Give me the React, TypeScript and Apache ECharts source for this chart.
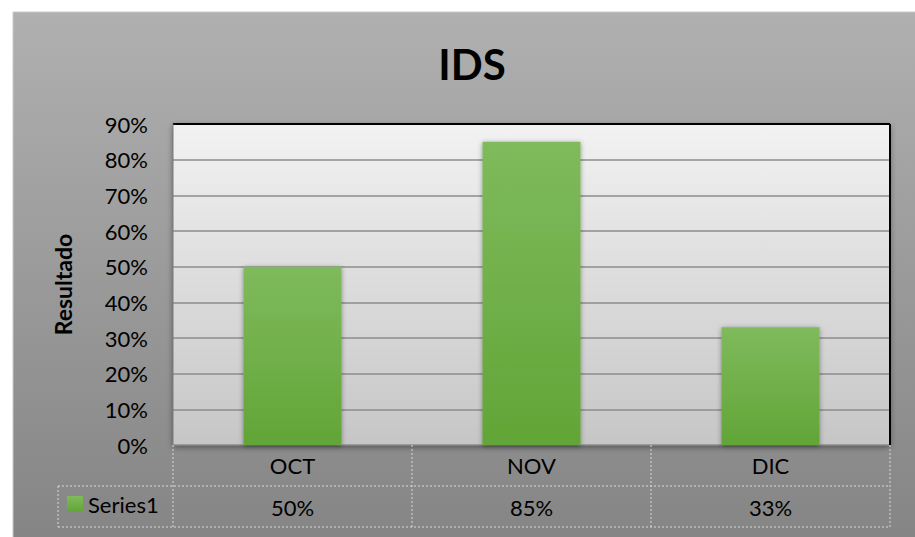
import React, { useEffect, useRef } from "react";
import * as echarts from "echarts";

const categories = ["OCT", "NOV", "DIC"];
const seriesName = "Series1";
const values = [50, 85, 33];
const yMin = 0;
const yMax = 90;
const yStep = 10;

const W = 915;
const H = 537;
const G = { left: 173, right: 25, top: 124, bottom: 92 };
const FONT = "Lato, 'Open Sans', sans-serif";

export default function App() {
  const ref = useRef<HTMLDivElement>(null);
  useEffect(() => {
    if (!ref.current) return;
    const chart = echarts.init(ref.current, undefined, { renderer: "svg" });
    const pl = G.left;
    const pr = W - G.right;
    const pt = G.top;
    const pb = H - G.bottom;
    const rowH = 41;
    const bandW = (pr - pl) / categories.length;
    const dash = { stroke: "#d9d9d9", lineWidth: 1, lineDash: [2, 2] };
    const graphics: any[] = [
      {
        type: "rect",
        z: -100,
        shape: { x: 13, y: 12, width: W, height: H },
        style: {
          fill: new echarts.graphic.LinearGradient(0, 0, 0, 1, [
            { offset: 0, color: "#b0b0b0" },
            { offset: 1, color: "#848484" },
          ]),
          stroke: "#c8c8c8",
          lineWidth: 1,
        },
      },
      { type: "line", z: 10, shape: { x1: pl, y1: pt, x2: pr, y2: pt }, style: { stroke: "#000", lineWidth: 2 } },
      { type: "line", z: 10, shape: { x1: pr, y1: pt, x2: pr, y2: pb }, style: { stroke: "#000", lineWidth: 2 } },
      { type: "line", z: 10, shape: { x1: pl, y1: pt, x2: pl, y2: pb }, style: { stroke: "#7a7a7a", lineWidth: 1 } },
      { type: "line", z: 10, shape: { x1: 58, y1: pb + rowH, x2: pr, y2: pb + rowH }, style: dash },
      { type: "line", z: 10, shape: { x1: 58, y1: pb + 2 * rowH, x2: pr, y2: pb + 2 * rowH }, style: dash },
      { type: "line", z: 10, shape: { x1: 58, y1: pb + rowH, x2: 58, y2: pb + 2 * rowH }, style: dash },
    ];
    for (let i = 0; i <= categories.length; i++) {
      const x = pl + i * bandW;
      graphics.push({ type: "line", z: 10, shape: { x1: x, y1: pb, x2: x, y2: pb + 2 * rowH }, style: dash });
    }
    chart.setOption({
      animation: false,
      backgroundColor: "#ffffff",
      title: {
        text: "IDS",
        left: 467,
        top: 38,
        textAlign: "center",
        textStyle: { fontFamily: FONT, fontWeight: "bold", fontSize: 42, color: "#000" },
      },
      legend: {
        show: true,
        left: 67,
        top: 493,
        itemWidth: 16,
        itemHeight: 16,
        itemGap: 5,
        padding: 0,
        icon: "rect",
        data: [seriesName],
        textStyle: { fontFamily: FONT, fontSize: 22, color: "#000", padding: [0, 0, 0, 0] },
      },
      grid: {
        left: G.left,
        right: G.right,
        top: G.top,
        bottom: G.bottom,
        show: true,
        borderWidth: 0,
        backgroundColor: new echarts.graphic.LinearGradient(0, 0, 0, 1, [
          { offset: 0, color: "#f2f2f2" },
          { offset: 1, color: "#c6c6c6" },
        ]),
        shadowColor: "rgba(0,0,0,0.45)",
        shadowBlur: 6,
        shadowOffsetY: 2,
      },
      xAxis: [
        {
          type: "category",
          data: categories,
          position: "bottom",
          axisLine: { show: false },
          axisTick: { show: false },
          axisLabel: { margin: 9, fontFamily: FONT, fontSize: 22, color: "#000" },
        },
        {
          type: "category",
          data: values.map((v) => v + "%"),
          position: "bottom",
          offset: 41,
          axisLine: { show: false },
          axisTick: { show: false },
          axisLabel: { margin: 10, fontFamily: FONT, fontSize: 22, color: "#000" },
        },
      ],
      yAxis: {
        type: "value",
        min: yMin,
        max: yMax,
        interval: yStep,
        name: "Resultado",
        nameLocation: "middle",
        nameGap: 99,
        nameTextStyle: { fontFamily: FONT, fontWeight: "bold", fontSize: 23, color: "#000" },
        axisLine: { show: false },
        axisTick: { show: false },
        axisLabel: { margin: 25, fontFamily: FONT, fontSize: 22, color: "#000", formatter: "{value}%" },
        splitLine: { lineStyle: { color: "#8c8c8c", width: 1.5 } },
      },
      series: [
        {
          name: seriesName,
          type: "bar",
          data: values,
          xAxisIndex: 0,
          barWidth: "41%",
          itemStyle: {
            color: new echarts.graphic.LinearGradient(0, 0, 0, 1, [
              { offset: 0, color: "#7fba5c" },
              { offset: 1, color: "#62a537" },
            ]),
            shadowColor: "rgba(0,0,0,0.4)",
            shadowBlur: 5,
            shadowOffsetY: 1,
          },
        },
      ],
      graphic: graphics,
    });
    return () => chart.dispose();
  }, []);
  return <div ref={ref} style={{ position: "fixed", left: 0, top: 0, width: W, height: H }} />;
}
